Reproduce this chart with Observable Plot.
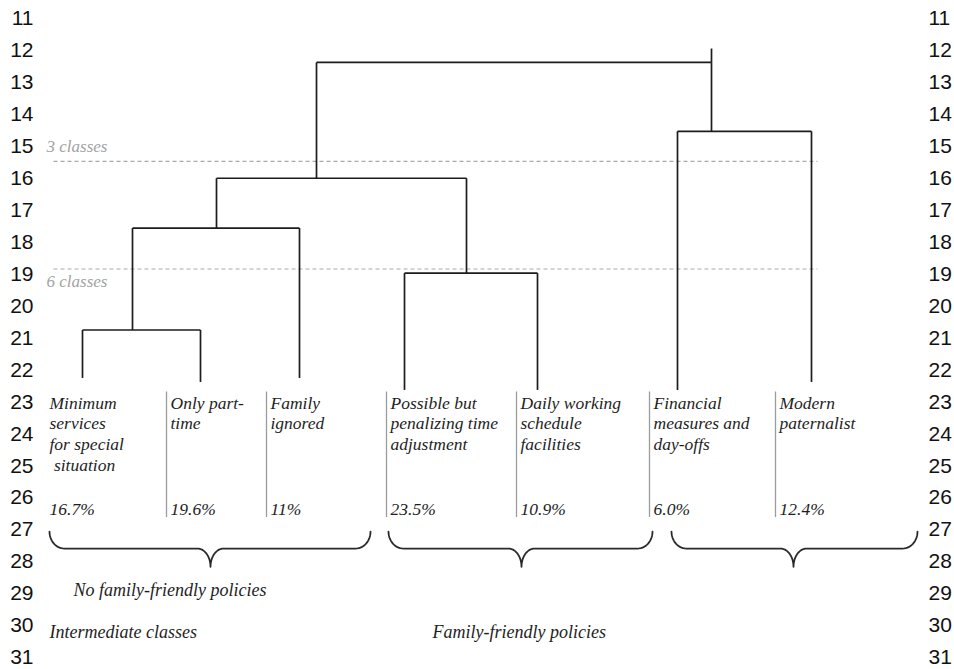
<!DOCTYPE html>
<html>
<head>
<meta charset="utf-8">
<script src="https://cdn.jsdelivr.net/npm/d3@7"></script>
<script src="https://cdn.jsdelivr.net/npm/@observablehq/plot@0.6"></script>
<style>
  html, body { margin: 0; padding: 0; background: #ffffff; }
  #chart svg { display: block; }
</style>
</head>
<body>
<div id="chart"></div>
<script>
// ---- Data ----
// Line numbers printed down both margins
const lineNumbers = [11,12,13,14,15,16,17,18,19,20,21,22,23,24,25,26,27,28,29,30,31];

// Leaves (clusters) in dendrogram order
const leafLabels = [
  "Minimum\nservices\nfor special\n\u00a0situation",
  "Only part-\ntime",
  "Family\nignored",
  "Possible but\npenalizing time\nadjustment",
  "Daily working\nschedule\nfacilities",
  "Financial\nmeasures and\nday-offs",
  "Modern\npaternalist"
];
const leafShares = ["16.7%", "19.6%", "11%", "23.5%", "10.9%", "6.0%", "12.4%"];
const leafX = [3.3, 15.1, 25.0, 35.5, 48.8, 62.8, 76.2];      // horizontal position of each leaf
const leafBase = [22.25, 22.375, 22.25, 22.625, 22.625, 22.625, 22.375]; // lower end of leaf stems
const colStart = [-0.4, 11.7, 21.7, 33.7, 46.7, 60.0, 72.6];    // start of each label column

// Merges (node ids: 0-6 leaves, 7.. merges in order)
const mergeLeft   = [0, 7, 3, 8, 5, 10];
const mergeRight  = [1, 2, 4, 9, 6, 11];
const mergeHeight = [20.75, 17.56, 18.97, 16.0, 14.53, 12.375];
const mergeX      = [8.3, 16.7, 41.7, 26.7, 66.2, 66.2];
const rootStubTop = 11.94;

// Cut levels
const cutLabels = ["3 classes", "6 classes"];
const cutY = [15.47, 18.84];
const cutLabelY = [15.19, 19.4];
const cutFrom = 0.4, cutTo = 76.8;

// Group braces
const braceStart = [0, 33.9, 62.2];
const braceEnd   = [32.1, 60.3, 86.8];
const braceTip   = [16.1, 47.2, 74.4];
const braceTop = 27.06, braceMid = 27.59, braceTipY = 28.16;

// Group captions
const groupLabels = ["No family-friendly policies", "Intermediate classes", "Family-friendly policies"];
const groupX = [2.4, 0, 38.3];
const groupY = [29.09, 30.4, 30.4];

// ---- Derived geometry ----
const nodeX = leafX.concat(mergeX);
const nodeH = leafBase.concat(mergeHeight);
const segs = [];
mergeLeft.forEach((l, i) => {
  const r = mergeRight[i], h = mergeHeight[i];
  segs.push({x1: nodeX[l], y1: h, x2: nodeX[r], y2: h});
  segs.push({x1: nodeX[l], y1: nodeH[l], x2: nodeX[l], y2: h});
  segs.push({x1: nodeX[r], y1: nodeH[r], x2: nodeX[r], y2: h});
});
const rootIdx = mergeX.length - 1;
segs.push({x1: mergeX[rootIdx], y1: mergeHeight[rootIdx], x2: mergeX[rootIdx], y2: rootStubTop});

const leaves = leafLabels.map((t, i) => ({label: t, share: leafShares[i], col: colStart[i]}));
const separators = colStart.slice(1);

const braces = [];
braceStart.forEach((x0, k) => {
  const x1 = braceEnd[k], xt = braceTip[k];
  const rx = 1.5, rt = 1.3, N = 14;
  const dyE = braceMid - braceTop, dyT = braceTipY - braceMid;
  for (let i = 0; i <= N; i++) { const p = i / N * Math.PI / 2;
    braces.push({id: k, x: x0 + rx - rx * Math.cos(p), y: braceTop + dyE * Math.sin(p)}); }
  for (let i = 0; i <= N; i++) { const p = i / N * Math.PI / 2;
    braces.push({id: k, x: xt - rt + rt * Math.sin(p), y: braceTipY - dyT * Math.cos(p)}); }
  for (let i = 0; i <= N; i++) { const p = i / N * Math.PI / 2;
    braces.push({id: k, x: xt + rt - rt * Math.cos(p), y: braceTipY - dyT * Math.sin(p)}); }
  for (let i = 0; i <= N; i++) { const p = i / N * Math.PI / 2;
    braces.push({id: k, x: x1 - rx + rx * Math.sin(p), y: braceTop + dyE * Math.cos(p)}); }
});

const cuts = cutLabels.map((t, i) => ({label: t, y: cutY[i], ly: cutLabelY[i]}));
const groups = groupLabels.map((t, i) => ({label: t, x: groupX[i], y: groupY[i]}));

const serif = "'Liberation Serif', 'Times New Roman', serif";

const chart = Plot.plot({
  width: 954,
  height: 669,
  marginLeft: 49,
  marginRight: 27,
  marginTop: 18,
  marginBottom: 12,
  style: {fontFamily: "'Liberation Sans', Arial, sans-serif", fontSize: "21px", background: "#ffffff", color: "#111"},
  x: {domain: [0, 87.8], axis: null},
  y: {domain: [11, 31], reverse: true, axis: null},
  marks: [
    Plot.axisY(lineNumbers, {anchor: "left", tickSize: 0, tickPadding: 16, tickFormat: d => String(d), label: null, fill: "#111"}),
    Plot.axisY(lineNumbers, {anchor: "right", tickSize: 0, tickPadding: 1, tickFormat: d => String(d), label: null, fill: "#111"}),
    // cut levels
    Plot.link(cuts, {x1: () => cutFrom, x2: () => cutTo, y1: "y", y2: "y", stroke: "#a9a9a9", strokeWidth: 1.2, strokeDasharray: "4,3"}),
    Plot.text(cuts, {x: () => -0.3, y: "ly", text: "label", textAnchor: "start", lineAnchor: "bottom", fontFamily: serif, fontStyle: "italic", fontSize: 17, fill: "#a3a3a3"}),
    // dendrogram
    Plot.link(segs, {x1: "x1", y1: "y1", x2: "x2", y2: "y2", stroke: "#1c1c1c", strokeWidth: 1.7}),
    // column separators
    Plot.ruleX(separators, {x: d => d, y1: 22.69, y2: 26.62, stroke: "#9c9c9c", strokeWidth: 1.3}),
    // leaf labels
    Plot.text(leaves, {x: "col", y: () => 22.74, dx: 4, text: "label", textAnchor: "start", lineAnchor: "top", lineHeight: 1.2, fontFamily: serif, fontStyle: "italic", fontSize: 17.5, fill: "#1e1e1e"}),
    Plot.text(leaves, {x: "col", y: () => 26.53, dx: 4, text: "share", textAnchor: "start", lineAnchor: "bottom", fontFamily: serif, fontStyle: "italic", fontSize: 17.5, fill: "#1e1e1e"}),
    // braces
    Plot.line(braces, {x: "x", y: "y", z: "id", stroke: "#2a2a2a", strokeWidth: 1.8}),
    // group captions
    Plot.text(groups, {x: "x", y: "y", text: "label", textAnchor: "start", lineAnchor: "bottom", fontFamily: serif, fontStyle: "italic", fontSize: 18, fill: "#1e1e1e"})
  ]
});
document.getElementById("chart").appendChild(chart);
</script>
</body>
</html>
